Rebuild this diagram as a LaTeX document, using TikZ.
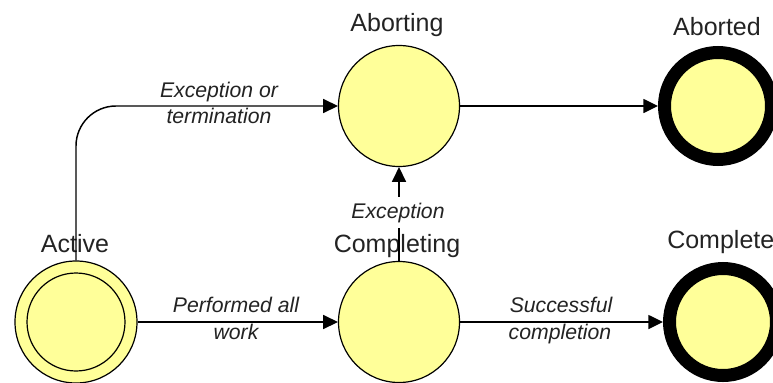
\documentclass[tikz,border=0pt]{standalone}
\usepackage{fontspec}
\setmainfont{Liberation Sans}
\usetikzlibrary{arrows.meta}
\definecolor{stfill}{RGB}{255,255,153}
\definecolor{txt}{RGB}{35,35,35}
\begin{document}
\begin{tikzpicture}[x=0.75pt,y=-0.75pt,
 state/.style={circle,draw=black,fill=stfill,line width=0.9pt,minimum size=90.75pt,inner sep=0pt},
 final/.style={circle,draw=black,fill=stfill,line width=9.75pt,minimum size=80.25pt,inner sep=0pt},
 slabel/.style={anchor=base,text=txt,font=\fontsize{18.75pt}{20pt}\selectfont,inner sep=0pt},
 elabel/.style={anchor=base,text=txt,font=\fontsize{15.9pt}{17pt}\selectfont\itshape,inner sep=0pt},
 conn/.style={line width=1.1pt,-{Triangle[length=11pt,width=10.5pt]}}]
\path[use as bounding box,fill=white] (0,0) rectangle (773,382);
% state labels
\node[slabel] (lact) at (75,252) {Active};
\node[slabel] (labg) at (397,31) {Aborting};
\node[slabel] (labd) at (717,35) {Aborted};
\node[slabel] (lcmg) at (397,252) {Completing};
\node[slabel,anchor=base west] (lcmd) at (667,248) {Complete};
% states
\node[state,minimum size=91.5pt] (act) at (76,322) {};
\node[state,minimum size=73.5pt] (acti) at (76,322) {};
\node[state] (abg) at (399,106) {};
\node[state] (cmg) at (399,322) {};
\node[final] (abd) at (718,106) {};
\node[final] (cmd) at (723,322) {};
% connectors
\draw[conn,rounded corners=30pt] (act.north) |- (abg.west);
\draw[conn] (act.east) -- (cmg.west);
\draw[conn] (cmg.east) -- (cmd.west);
\draw[conn] (abg.east) -- (abd.west);
\draw[conn] (cmg.north) -- (abg.south);
% connector labels
\node[elabel,fill=white,inner sep=4pt] (lexc) at (398,218) {Exception};
\node[elabel] (le1) at (219,97) {Exception or};
\node[elabel] (le2) at (219,123) {termination};
\node[elabel] (lp1) at (236,312) {Performed all};
\node[elabel] (lp2) at (236,339) {work};
\node[elabel] (ls1) at (561,312) {Successful};
\node[elabel] (ls2) at (560,339) {completion};
\end{tikzpicture}
\end{document}
